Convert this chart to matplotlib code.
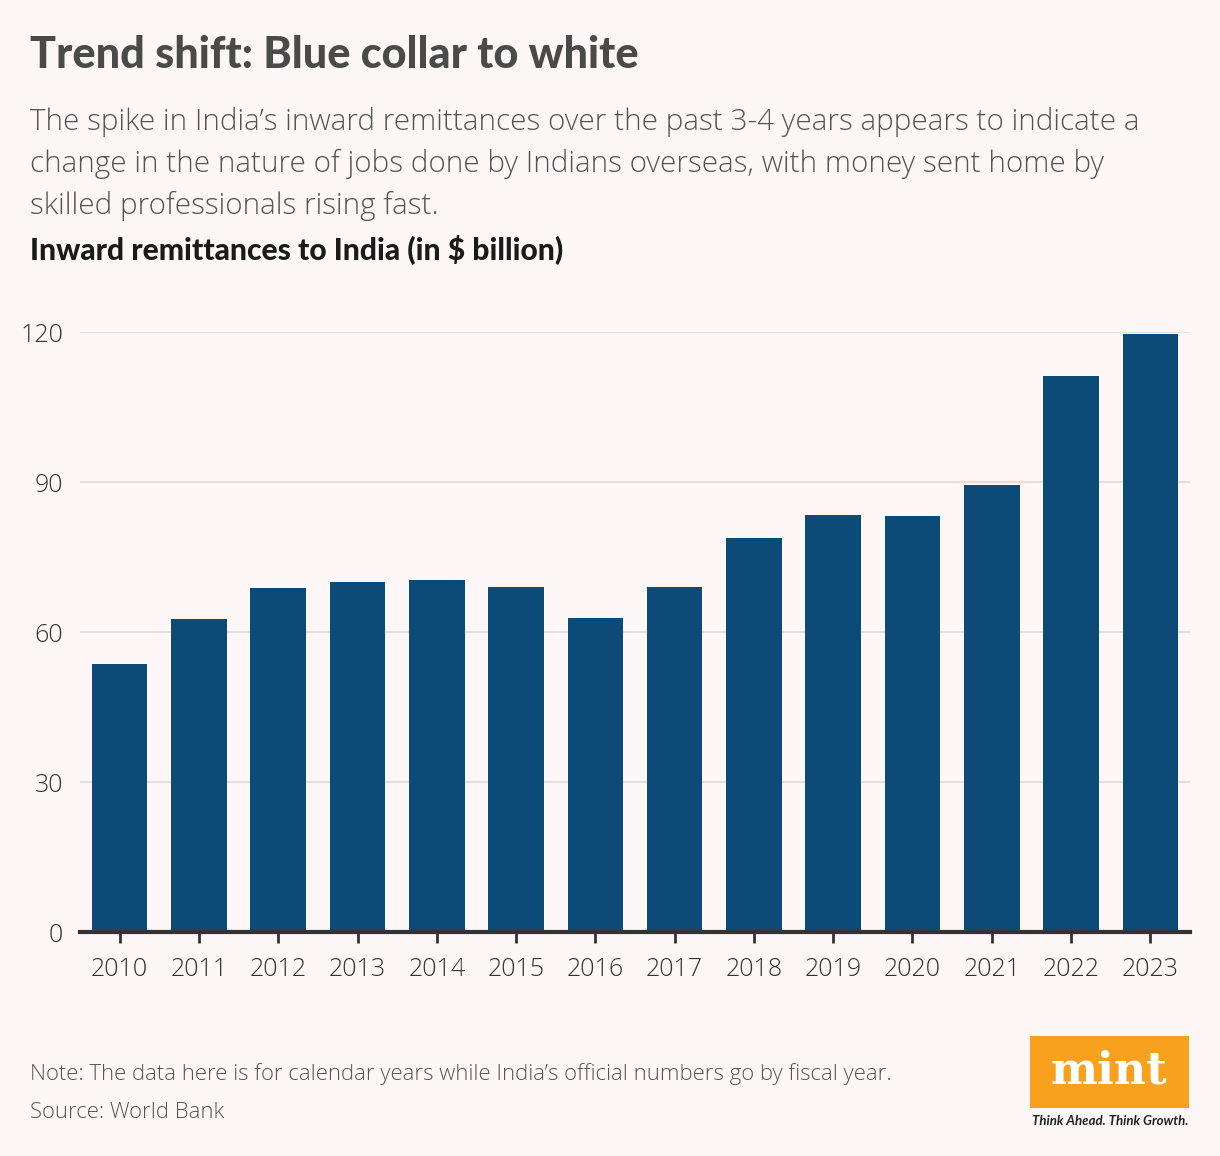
import matplotlib.pyplot as plt
from matplotlib.patches import Rectangle

# Data
years = ["2010", "2011", "2012", "2013", "2014", "2015", "2016",
         "2017", "2018", "2019", "2020", "2021", "2022", "2023"]
remittances = [53.6, 62.6, 68.8, 70.0, 70.4, 69.0, 62.8,
               69.0, 78.8, 83.4, 83.2, 89.4, 111.2, 119.6]
y_ticks = [0, 30, 60, 90, 120]

bg = "#fdf8f7"
bar_color = "#0c4a78"
light = "Open Sans"

W, H = 1220, 1156
fig = plt.figure(figsize=(W / 100, H / 100), dpi=100, facecolor=bg)
renderer = fig.canvas.get_renderer()

# Axes placed in pixel coordinates
left, right, top, bottom = 80, 1190, 332, 932
ax = fig.add_axes([left / W, 1 - bottom / H, (right - left) / W, (bottom - top) / H])
ax.set_facecolor(bg)

x = range(len(years))
ax.bar(x, remittances, width=0.7, color=bar_color, zorder=3)

ax.set_xlim(-0.5, len(years) - 0.5)
ax.set_ylim(0, 120)
ax.set_yticks(y_ticks)
ax.set_xticks(list(x))
ax.set_xticklabels(years)
ax.grid(axis="y", color="#e3dfde", linewidth=1.5, zorder=0)
ax.set_axisbelow(True)

for s in ["top", "right", "left"]:
    ax.spines[s].set_visible(False)
ax.spines["bottom"].set_color("#333333")
ax.spines["bottom"].set_linewidth(3)
ax.spines["bottom"].set_zorder(4)

ax.tick_params(axis="y", length=0, pad=12, labelsize=18, labelcolor="#333333")
ax.tick_params(axis="x", length=8, width=2, color="#333333", pad=10,
               labelsize=18, labelcolor="#333333")
for lab in ax.get_xticklabels() + ax.get_yticklabels():
    lab.set_fontfamily(light)
    lab.set_fontweight(300)


def px(xp, yp):
    return xp / W, 1 - yp / H


def fit(t, width_px):
    # scale the font so the text spans the width seen in the reference
    w = t.get_window_extent(renderer).width
    t.set_fontsize(t.get_fontsize() * width_px / w)
    return t


# Header
fit(fig.text(*px(30, 68), "Trend shift: Blue collar to white", fontsize=31,
             fontweight=900, color="#4a4a4a", family="Lato", va="baseline"), 608)
subtitle = ["The spike in India\u2019s inward remittances over the past 3-4 years appears to indicate a",
            "change in the nature of jobs done by Indians overseas, with money sent home by",
            "skilled professionals rising fast."]
sub = [fig.text(*px(30, 130 + i * 42), line, fontsize=21, fontweight=300,
                color="#555555", family=light, va="baseline") for i, line in enumerate(subtitle)]
fit(sub[0], 1110)
for t in sub[1:]:
    t.set_fontsize(sub[0].get_fontsize())
fit(fig.text(*px(30, 259), "Inward remittances to India (in $ billion)", fontsize=19,
             fontweight=900, color="#1a1a1a", family="Lato", va="baseline"), 532)

# Footer
note = fit(fig.text(*px(30, 1080), "Note: The data here is for calendar years while India\u2019s official numbers go by fiscal year.",
                    fontsize=16, fontweight=300, color="#555555", family=light, va="baseline"), 865)
fig.text(*px(30, 1118), "Source: World Bank", fontsize=note.get_fontsize(), fontweight=300,
         color="#555555", family=light, va="baseline")

# Logo
fig.patches.append(Rectangle(px(1030, 1108), 159 / W, 72 / H, transform=fig.transFigure,
                             facecolor="#f7a11e", edgecolor="none"))
fig.text(*px(1109, 1084), "mint", fontsize=32, fontweight="bold", color="white",
         family="DejaVu Serif", ha="center", va="baseline")
fig.text(*px(1110, 1125), "Think Ahead. Think Growth.", fontsize=9.5, fontweight="bold",
         style="italic", color="#222222", family="Lato", ha="center", va="baseline")

fig.savefig("out.png", dpi=100, facecolor=bg)
